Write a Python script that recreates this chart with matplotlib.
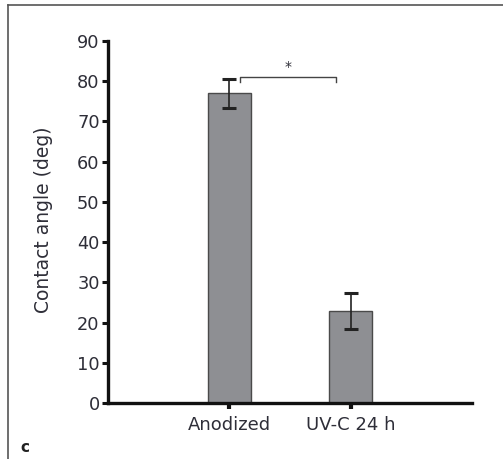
import matplotlib
matplotlib.use("Agg")
import matplotlib.pyplot as plt
from matplotlib.lines import Line2D

categories = ["Anodized", "UV-C 24 h"]
values = [77.0, 22.8]
errors = [3.6, 4.5]
yticks = [0, 10, 20, 30, 40, 50, 60, 70, 80, 90]
sig_label = "*"

plt.rcParams['font.family'] = ['DejaVu Sans']
txt = "#2e2e38"

fig = plt.figure(figsize=(5.03, 4.59), dpi=100)
ax = fig.add_axes([108/503, 1-403/459, (472-108)/503, (403-41)/459])

x = [0, 1]
ax.bar(x, values, width=0.35, color="#8e8f93", edgecolor="#4a4a4a", linewidth=1.0, zorder=2)
ax.errorbar(x, values, yerr=errors, fmt="none", ecolor="#222222", elinewidth=1.2,
            capsize=5, capthick=2.2, zorder=3)

ax.set_xlim(-1.0, 2.0)
ax.set_ylim(0, 90)
ax.set_yticks(yticks)
ax.set_yticklabels([str(t) for t in yticks], fontsize=12.8, color=txt)
ax.set_xticks(x)
ax.set_xticklabels(categories, fontsize=13, color=txt)
ax.tick_params(axis='y', length=4, width=2.2, pad=2, color="#111111")
ax.tick_params(axis='x', length=4, width=3, pad=5, color="#111111")
for s in ["top", "right"]:
    ax.spines[s].set_visible(False)
for s in ["left", "bottom"]:
    ax.spines[s].set_linewidth(2.4)
    ax.spines[s].set_color("#111111")
ax.set_ylabel("Contact angle (deg)", fontsize=13.5, color=txt)
ax.yaxis.set_label_coords((53 - 108) / 364, (403 - 220) / 362)

# significance bracket
top = values[0] + errors[0] + 0.5
x0, x1 = 0.09, 0.88
ax.plot([x0, x0, x1, x1], [top - 1.2, top, top, top - 1.2], color="#444444", lw=1.0,
        clip_on=False, zorder=4)
ax.text((x0 + x1) / 2, top + 0.6, sig_label, ha="center", va="bottom", fontsize=10, color=txt)

# panel label and frame
fig.text(20/503, 1-447/459, "c", fontsize=11, fontweight="bold", color="#222222",
         ha="left", va="center")
fig.add_artist(Line2D([7.5/503, 7.5/503], [0, 1-4.5/459], transform=fig.transFigure,
                      color="#555555", lw=1.2))
fig.add_artist(Line2D([7.5/503, 1], [1-4.5/459, 1-4.5/459], transform=fig.transFigure,
                      color="#555555", lw=1.2))

fig.savefig("out.png", dpi=100)
